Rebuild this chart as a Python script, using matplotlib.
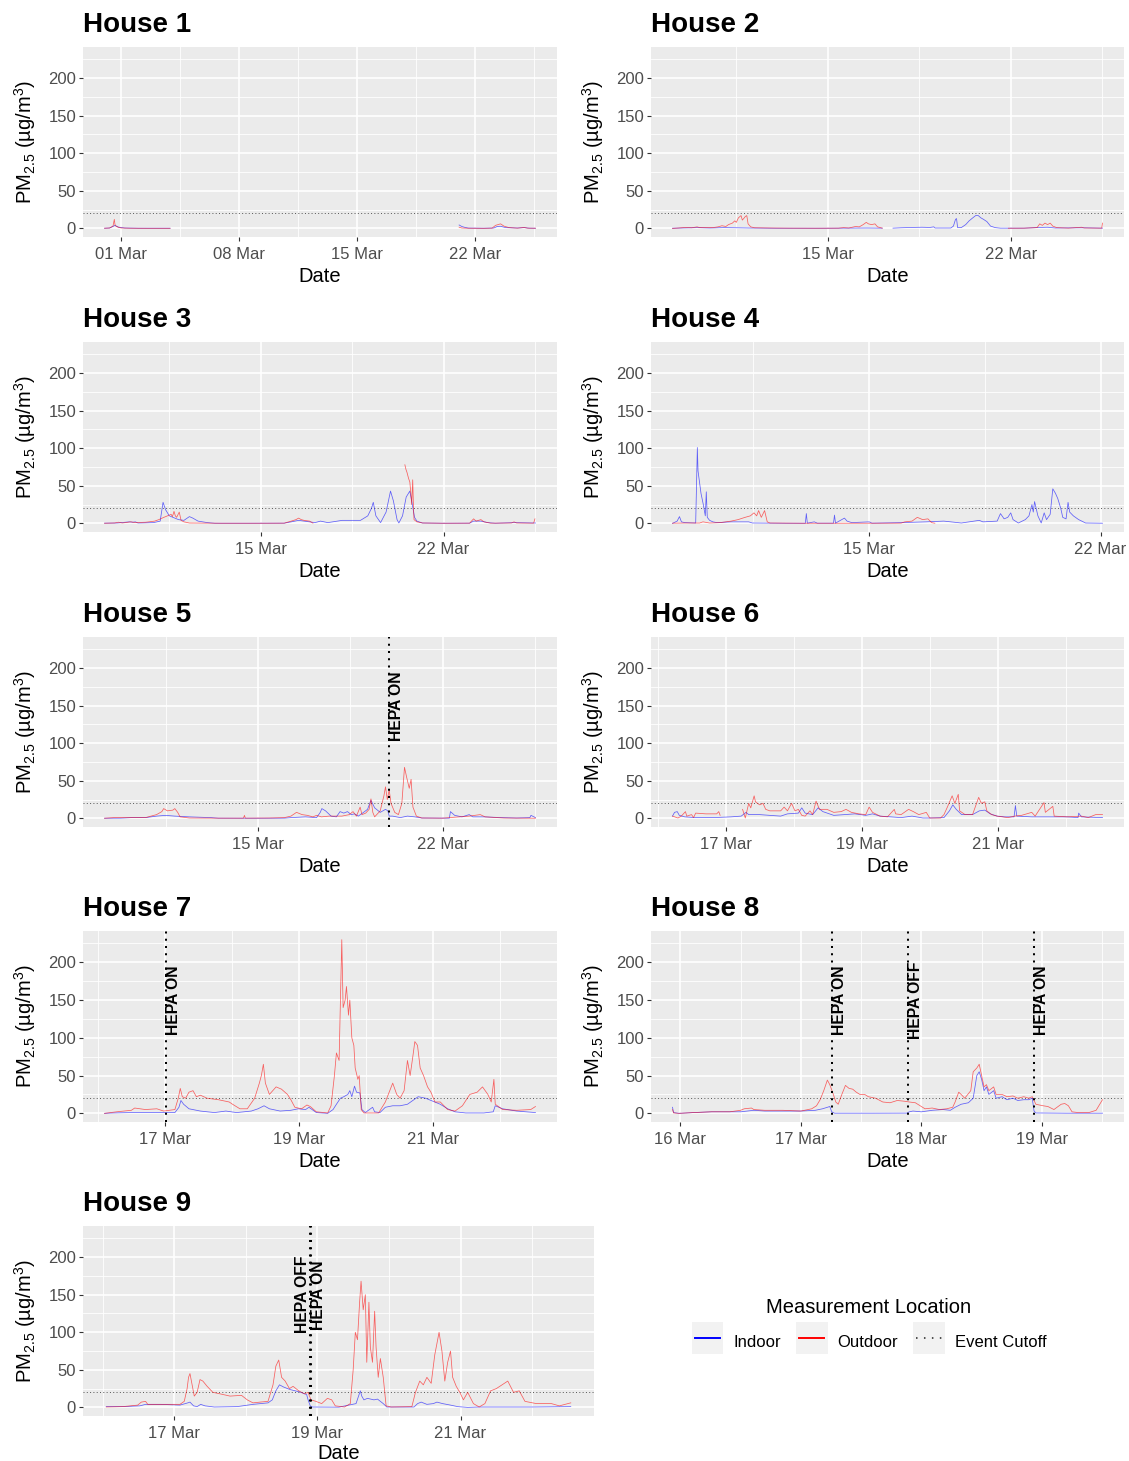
import numpy as np
import pandas as pd
import matplotlib
matplotlib.use("Agg")
import matplotlib.pyplot as plt
import matplotlib.dates as mdates
from matplotlib.lines import Line2D
from matplotlib.patches import Rectangle
from matplotlib.legend_handler import HandlerBase

nan = np.nan
plt.rcParams['font.family'] = ['Liberation Sans', 'DejaVu Sans']
plt.rcParams['mathtext.default'] = 'regular'

# time values are days counted from 28 Feb (1 = 01 Mar)
BASE = pd.Timestamp('2023-02-28')

# ---------------- House 1 ----------------
h1_in_t = [0.0, 0.3, 0.5, 0.6, 0.7, 0.85, 1.2, 2.0, 3.0, 3.89, 10.0, 21.04, 21.2, 21.4, 21.6, 22.5, 23.1, 23.3, 23.5, 23.8, 24.5, 24.9, 25.2, 25.57]
h1_in_v = [0.2, 0.5, 2.5, 4, 3, 1.5, 0.5, 0.2, 0.2, 0.2, nan, 4.5, 2.5, 1.2, 0.4, 0.2, 0.5, 2.5, 2.8, 1.0, 0.5, 1.0, 0.3, 0.2]
h1_out_t = [0.0, 0.3, 0.5, 0.58, 0.62, 0.68, 0.8, 1.0, 1.5, 2.5, 3.89, 10.0, 21.04, 21.2, 21.5, 22.5, 23.0, 23.2, 23.35, 23.5, 23.7, 24.0, 24.5, 24.9, 25.1, 25.57]
h1_out_v = [0.2, 0.5, 3, 12, 5, 3, 1.5, 0.5, 0.2, 0.1, 0.1, nan, 1.5, 0.5, 0.2, 0.1, 0.3, 4, 5, 6, 3, 1, 0.3, 1.2, 0.3, 0.2]

# ---------------- House 2 ----------------
h2_in_t = [9.06, 10.0, 10.5, 11.0, 11.5, 12.0, 13.0, 15.0, 16.5, 17.08, 17.3, 17.49, 17.8, 18.2, 18.6, 18.9, 19.05, 19.1, 19.7, 19.8, 19.88, 19.92, 19.96, 20.1, 20.27, 20.4, 20.54, 20.65, 20.75, 20.85, 20.95, 21.08, 21.22, 21.4, 21.6, 22.5, 23.1, 23.4, 23.7, 24.7, 25.5]
h2_in_v = [0.2, 1, 0.5, 1, 0.8, 0.5, 0.2, 0.2, 0.5, 0.3, nan, 0.3, 0.8, 1.2, 1.5, 1.2, 2, 0.5, 0.5, 3, 12, 13, 1, 1, 5, 10, 14, 17, 17, 14, 12, 9, 3, 1, 0.3, 0.3, 1.2, 1.5, 0.5, 0.8, 0.3]
h2_out_t = [9.06, 9.3, 9.54, 9.8, 10.0, 10.1, 10.4, 10.6, 10.8, 10.95, 11.1, 11.2, 11.35, 11.44, 11.5, 11.58, 11.68, 11.73, 11.78, 11.85, 11.9, 11.95, 12.05, 12.2, 12.8, 13.5, 14.5, 15.4, 15.6, 15.8, 16.06, 16.2, 16.35, 16.47, 16.55, 16.67, 16.8, 16.9, 17.08, 19.0, 21.9, 22.5, 23.0, 23.1, 23.2, 23.3, 23.4, 23.5, 23.6, 23.75, 24.2, 24.7, 24.8, 25.47, 25.5]
h2_out_v = [0, 0.5, 1.2, 0.8, 2, 1, 1.2, 1, 2, 3.5, 2.5, 5, 7, 10, 8, 14, 17, 11, 13, 16, 17, 6, 2, 0.8, 0.5, 0.3, 0.2, 0.3, 1, 0.5, 2.5, 2, 5, 8, 6, 5, 6, 2, 0.3, nan, 0.2, 0.3, 1, 6, 4, 7, 5, 7, 3, 1, 0.3, 1.5, 0.5, 0.3, 7]

# ---------------- House 3 ----------------
h3_in_t = [9.02, 9.5, 9.97, 10.1, 10.2, 10.3, 10.9, 11.15, 11.26, 11.36, 11.5, 11.64, 11.85, 12.06, 12.27, 12.4, 12.6, 12.96, 13.24, 14.5, 15.9, 16.17, 16.45, 16.87, 17.08, 17.29, 17.57, 18.12, 18.54, 18.82, 18.96, 19.1, 19.24, 19.31, 19.41, 19.59, 19.8, 19.97, 20.08, 20.22, 20.29, 20.43, 20.57, 20.71, 20.78, 20.89, 20.98, 21.19, 22.0, 23.0, 23.15, 23.43, 23.7, 23.98, 24.7, 25.52]
h3_in_v = [0.3, 0.5, 2, 1.5, 2, 0.5, 1, 3, 28, 18, 10, 8, 5, 4, 9, 7, 3, 1, 0.2, 0.2, 0.3, 2, 4, 2, 1, 3, 1, 4, 4, 4, 7, 10, 20, 28, 10, 1, 15, 43, 30, 5, 0.5, 10, 35, 43, 30, 8, 3, 0.5, 0.2, 0.3, 3, 3, 1, 0.2, 1, 0.5]
h3_out_t = [9.02, 9.4, 9.55, 9.7, 10.03, 10.2, 10.6, 10.94, 11.1, 11.29, 11.43, 11.57, 11.62, 11.68, 11.73, 11.78, 11.88, 11.95, 12.06, 12.27, 13.5, 15.0, 15.9, 16.17, 16.35, 16.45, 16.55, 16.66, 16.87, 17.0, 18.5, 20.52, 20.56, 20.6, 20.66, 20.71, 20.76, 20.78, 20.82, 20.85, 20.87, 20.98, 21.2, 22.0, 23.0, 23.15, 23.25, 23.43, 23.55, 23.8, 24.6, 24.7, 24.8, 25.45, 25.5]
h3_out_v = [0.2, 0.5, 1.5, 0.5, 2, 1, 1.5, 3, 5, 8, 10, 12, 9, 16, 10, 8, 15, 4, 2, 0.5, 0.2, 0.2, 0.3, 3, 5, 7, 5, 4, 3, 0.3, nan, 78, 72, 68, 60, 55, 35, 25, 58, 20, 5, 2, 0.5, 0.2, 0.3, 6, 3, 5, 2, 0.3, 0.5, 2, 0.5, 0.3, 6]

# ---------------- House 4 ----------------
h4_in_t = [9.08, 9.22, 9.29, 9.35, 9.45, 9.78, 9.83, 9.85, 9.88, 9.94, 10.01, 10.07, 10.1, 10.13, 10.2, 10.3, 10.42, 10.85, 11.38, 11.49, 12.5, 13.09, 13.12, 13.15, 13.36, 13.45, 13.94, 13.97, 14.0, 14.27, 14.35, 14.49, 15.02, 15.1, 15.98, 16.73, 17.27, 17.8, 18.34, 18.45, 18.88, 18.98, 19.09, 19.2, 19.29, 19.36, 19.52, 19.73, 19.84, 19.93, 19.97, 20.01, 20.11, 20.21, 20.3, 20.37, 20.48, 20.56, 20.64, 20.71, 20.8, 20.86, 20.96, 21.02, 21.07, 21.18, 21.34, 21.55, 22.06]
h4_in_v = [0, 3, 9, 2, 1, 0.5, 101, 70, 60, 40, 25, 10, 42, 8, 4, 2, 1, 2, 2, 0.5, 0.2, 0.2, 13, 0.3, 2, 0.3, 0.3, 11, 0.3, 7, 3, 1, 2, 0.3, 1, 2, 3, 0.5, 4, 2, 3, 13, 6, 8, 14, 5, 0.5, 5, 10, 25, 15, 29, 10, 0.5, 14, 5, 12, 46, 40, 33, 20, 8, 6, 28, 15, 10, 5, 0.5, 0.2]
h4_out_t = [9.08, 9.5, 9.9, 10.0, 10.2, 10.52, 10.85, 11.06, 11.27, 11.43, 11.54, 11.62, 11.68, 11.76, 11.86, 11.94, 12.02, 13.0, 14.0, 15.0, 15.98, 16.09, 16.31, 16.47, 16.63, 16.79, 16.9, 17.0]
h4_out_v = [0.3, 0.5, 0.5, 2, 0.5, 1, 3, 5, 8, 10, 14, 10, 17, 8, 17, 2, 0.5, 0.2, 0.2, 0.2, 0.3, 2, 3, 8, 5, 6, 1, 0.2]

# ---------------- House 5 ----------------
h5_in_t = [9.19, 9.8, 10.19, 10.74, 11.16, 11.5, 11.85, 12.4, 13.22, 13.5, 15.0, 16.0, 16.25, 16.8, 17.22, 17.36, 17.42, 17.56, 17.77, 17.97, 18.11, 18.25, 18.39, 18.53, 18.66, 18.8, 19.0, 19.15, 19.28, 19.42, 19.63, 19.83, 19.92, 19.97, 20.1, 20.39, 20.66, 20.94, 21.21, 22.25, 22.29, 22.45, 22.73, 23.0, 23.14, 23.55, 24.24, 24.79, 25.3, 25.34, 25.51]
h5_in_v = [0.2, 0.3, 1, 1, 3, 4, 3, 2, 1, 0.3, 0.2, 0.3, 1, 2, 1, 8, 13, 10, 3, 2, 9, 7, 9, 5, 6, 3, 8, 12, 24, 14, 8, 12, 10, 3, 3, 1, 3, 2, 0.5, 0.3, 9, 4, 2, 5, 2, 2, 1, 0.5, 1, 4, 1]
h5_out_t = [9.19, 9.53, 10.05, 10.74, 11.16, 11.36, 11.43, 11.57, 11.78, 11.85, 11.96, 12.05, 12.4, 13.5, 14.45, 14.49, 14.52, 15.43, 16.0, 16.25, 16.46, 16.67, 16.87, 17.08, 17.22, 17.4, 17.7, 18.18, 18.46, 18.6, 18.73, 18.87, 18.94, 19.08, 19.21, 19.28, 19.35, 19.42, 19.63, 19.77, 19.83, 19.9, 19.97, 20.04, 20.18, 20.32, 20.45, 20.55, 20.63, 20.73, 20.8, 20.87, 21.0, 21.2, 22.0, 23.0, 23.42, 23.6, 24.3, 25.51]
h5_out_v = [0.2, 1, 1, 1, 5, 9, 13, 10, 11, 13, 8, 2, 0.5, 0.3, 0.3, 4, 0.3, 0.5, 1, 3, 8, 5, 4, 2, 4, 2, 3, 3, 5, 9, 3, 15, 5, 7, 12, 26, 8, 2, 10, 30, 42, 25, 38, 20, 8, 5, 20, 68, 55, 40, 52, 15, 3, 0.5, 0.3, 3, 5, 2, 0.5, 0.2]

# ---------------- House 6 ----------------
h6_in_t = [16.22, 16.25, 16.29, 16.32, 16.4, 16.56, 16.82, 17.08, 17.23, 17.3, 17.34, 17.5, 17.65, 17.81, 17.91, 18.07, 18.12, 18.17, 18.28, 18.36, 18.43, 18.59, 18.75, 18.9, 19.06, 19.16, 19.27, 19.43, 19.58, 19.74, 19.9, 20.0, 20.21, 20.29, 20.34, 20.39, 20.47, 20.63, 20.73, 20.81, 20.89, 20.99, 21.1, 21.24, 21.26, 21.28, 21.5, 21.76, 22.02, 22.18, 22.19, 22.23, 22.54]
h6_in_v = [3, 8, 9, 4, 2, 1, 1, 2, 3, 8, 5, 5, 4, 3, 6, 7, 14, 7, 5, 14, 9, 4, 5, 6, 4, 6, 3, 2, 1, 3, 0.5, 0.5, 1, 10, 18, 12, 5, 5, 10, 11, 6, 3, 2, 2, 17, 3, 2, 2, 2, 1, 7, 2, 1]
h6_out_t = [16.22, 16.3, 16.35, 16.41, 16.43, 16.5, 16.53, 16.56, 16.71, 16.87, 16.9, 16.92, 17.1, 17.25, 17.29, 17.34, 17.37, 17.42, 17.44, 17.5, 17.55, 17.59, 17.65, 17.81, 17.86, 17.91, 17.97, 18.02, 18.07, 18.12, 18.17, 18.24, 18.28, 18.33, 18.38, 18.49, 18.59, 18.7, 18.77, 18.85, 18.96, 19.06, 19.11, 19.16, 19.27, 19.38, 19.48, 19.5, 19.58, 19.69, 19.76, 19.84, 19.95, 20.0, 20.16, 20.21, 20.26, 20.33, 20.37, 20.42, 20.44, 20.52, 20.63, 20.72, 20.76, 20.81, 20.84, 20.91, 20.99, 21.15, 21.25, 21.35, 21.5, 21.55, 21.68, 21.7, 21.81, 21.83, 22.02, 22.23, 22.33, 22.44, 22.54]
h6_out_v = [3, 0.5, 3, 9, 3, 5, 1, 7, 6, 6, 9, 4, nan, 12, 0.5, 20, 14, 30, 22, 18, 20, 12, 10, 10, 15, 10, 20, 10, 12, 4, 3, 10, 5, 23, 12, 12, 8, 9, 12, 8, 6, 5, 15, 8, 3, 2, 12, 6, 5, 12, 9, 5, 8, 0.5, 0.5, 5, 15, 30, 20, 32, 10, 5, 5, 28, 20, 22, 10, 5, 3, 1, 3, 4, 8, 3, 21, 8, 16, 3, 2, 3, 1, 5, 5]

# ---------------- House 7 ----------------
h7_in_t = [16.1, 16.22, 16.5, 16.71, 16.98, 17.15, 17.21, 17.24, 17.28, 17.36, 17.53, 17.74, 17.91, 18.07, 18.29, 18.39, 18.48, 18.56, 18.72, 18.88, 18.99, 19.1, 19.15, 19.26, 19.43, 19.51, 19.56, 19.62, 19.67, 19.73, 19.76, 19.79, 19.83, 19.86, 19.91, 19.94, 19.99, 20.1, 20.13, 20.21, 20.29, 20.4, 20.51, 20.62, 20.78, 20.89, 21.0, 21.11, 21.22, 21.33, 21.49, 21.76, 21.9, 21.93, 22.04, 22.25, 22.53]
h7_in_v = [0, 0.5, 1, 1, 1, 1, 8, 17, 12, 6, 3, 1, 3, 1, 3, 6, 10, 6, 3, 4, 6, 5, 8, 1, 0, 5, 12, 20, 22, 25, 30, 22, 36, 28, 27, 5, 1, 8, 2, 1, 8, 10, 10, 12, 22, 20, 16, 12, 6, 2, 0.5, 0.5, 2, 10, 6, 3, 1]
h7_out_t = [16.1, 16.28, 16.5, 16.55, 16.71, 16.88, 16.98, 17.15, 17.2, 17.23, 17.26, 17.31, 17.36, 17.42, 17.47, 17.53, 17.63, 17.8, 17.96, 18.01, 18.12, 18.23, 18.34, 18.41, 18.44, 18.47, 18.5, 18.56, 18.61, 18.66, 18.74, 18.83, 18.88, 18.94, 19.04, 19.12, 19.17, 19.26, 19.43, 19.48, 19.53, 19.56, 19.6, 19.62, 19.64, 19.66, 19.69, 19.71, 19.74, 19.76, 19.79, 19.82, 19.84, 19.88, 19.9, 19.93, 19.97, 20.19, 20.29, 20.4, 20.46, 20.51, 20.57, 20.62, 20.66, 20.7, 20.73, 20.77, 20.81, 20.86, 20.92, 20.97, 21.03, 21.11, 21.22, 21.33, 21.44, 21.55, 21.66, 21.74, 21.82, 21.87, 21.91, 21.93, 22.04, 22.25, 22.46, 22.53]
h7_out_v = [0, 2, 4, 7, 5, 6, 3, 5, 20, 33, 22, 20, 28, 30, 22, 24, 20, 18, 15, 12, 6, 6, 20, 40, 50, 65, 40, 25, 30, 35, 32, 25, 18, 8, 6, 11, 9, 2, 0.5, 10, 50, 80, 70, 150, 230, 140, 150, 168, 130, 150, 100, 90, 60, 45, 50, 5, 0.5, 0.5, 15, 40, 25, 20, 30, 70, 50, 75, 95, 90, 60, 50, 35, 28, 15, 15, 5, 3, 10, 25, 28, 35, 25, 15, 45, 12, 5, 4, 5, 9]

# ---------------- House 8 ----------------
h8_in_t = [15.935, 15.944, 15.99, 16.11, 16.26, 16.41, 16.5, 16.61, 16.7, 16.85, 17.0, 17.12, 17.18, 17.22, 17.24, 17.256, 17.28, 17.6, 17.88, 17.9, 17.93, 18.0, 18.09, 18.18, 18.24, 18.28, 18.33, 18.39, 18.43, 18.46, 18.48, 18.5, 18.52, 18.54, 18.56, 18.6, 18.62, 18.67, 18.71, 18.76, 18.8, 18.85, 18.89, 18.92, 18.935, 18.95, 19.2, 19.503]
h8_in_v = [8, 1, 0, 1, 2, 2, 2, 4, 3, 3, 3, 4, 6, 8, 9, 2, 0.2, 0.2, 0.3, 2, 3, 2, 4, 5, 4, 8, 12, 14, 20, 50, 55, 45, 30, 35, 25, 30, 20, 22, 18, 20, 17, 18, 18, 20, 3, 0.5, 0.2, 0.2]
h8_out_t = [15.935, 15.944, 15.99, 16.11, 16.26, 16.41, 16.5, 16.53, 16.59, 16.61, 16.7, 16.85, 17.0, 17.09, 17.13, 17.16, 17.19, 17.22, 17.24, 17.27, 17.29, 17.31, 17.34, 17.37, 17.4, 17.43, 17.46, 17.49, 17.53, 17.56, 17.62, 17.68, 17.74, 17.8, 17.86, 17.9, 17.95, 17.99, 18.03, 18.09, 18.15, 18.21, 18.26, 18.28, 18.31, 18.33, 18.36, 18.41, 18.43, 18.46, 18.48, 18.5, 18.52, 18.54, 18.56, 18.6, 18.62, 18.67, 18.71, 18.76, 18.8, 18.85, 18.89, 18.92, 18.95, 19.01, 19.05, 19.1, 19.16, 19.19, 19.22, 19.25, 19.3, 19.39, 19.45, 19.48, 19.503]
h8_out_v = [5, 0.5, 0, 1, 2, 2, 4, 6, 7, 5, 4, 4, 3, 6, 10, 18, 30, 44, 38, 25, 15, 12, 25, 37, 33, 32, 28, 25, 25, 22, 20, 15, 14, 17, 16, 15, 14, 10, 6, 7, 5, 6, 8, 15, 28, 25, 20, 30, 55, 60, 65, 50, 35, 38, 30, 35, 25, 25, 22, 23, 20, 22, 20, 22, 12, 10, 9, 5, 12, 13, 10, 2, 1, 1, 4, 12, 18]

# ---------------- House 9 ----------------
h9_in_t = [16.05, 16.28, 16.52, 16.6, 16.81, 17.08, 17.19, 17.22, 17.27, 17.32, 17.37, 17.43, 17.56, 17.88, 18.1, 18.31, 18.37, 18.42, 18.47, 18.53, 18.61, 18.69, 18.77, 18.85, 18.87, 18.9, 18.93, 19.3, 19.54, 19.6, 19.62, 19.65, 19.7, 19.79, 19.84, 19.92, 19.97, 20.35, 20.4, 20.45, 20.53, 20.62, 20.67, 20.75, 20.86, 20.96, 21.1, 21.26, 22.0, 22.54]
h9_in_v = [1, 1, 2, 4, 4, 3, 6, 7, 2, 1, 4, 2, 0.5, 1, 4, 6, 10, 22, 30, 27, 24, 22, 20, 17, 10, 2, 0.5, 0.3, 5, 22, 15, 10, 12, 10, 11, 5, 0.5, 0.5, 5, 7, 4, 5, 7, 5, 3, 1, 0, 0.5, 0.5, 1]
h9_out_t = [16.05, 16.28, 16.49, 16.54, 16.6, 16.63, 16.81, 17.08, 17.14, 17.18, 17.2, 17.22, 17.25, 17.28, 17.32, 17.36, 17.4, 17.46, 17.54, 17.64, 17.78, 17.94, 18.02, 18.1, 18.2, 18.31, 18.38, 18.42, 18.46, 18.5, 18.55, 18.61, 18.66, 18.74, 18.82, 18.87, 18.91, 18.98, 19.06, 19.14, 19.2, 19.25, 19.38, 19.46, 19.5, 19.53, 19.56, 19.59, 19.61, 19.64, 19.67, 19.69, 19.72, 19.74, 19.77, 19.8, 19.82, 19.85, 19.88, 19.92, 19.96, 20.03, 20.32, 20.37, 20.43, 20.48, 20.53, 20.59, 20.64, 20.7, 20.74, 20.78, 20.82, 20.86, 20.89, 20.94, 20.99, 21.04, 21.1, 21.18, 21.26, 21.34, 21.42, 21.5, 21.58, 21.66, 21.74, 21.82, 21.9, 22.06, 22.27, 22.38, 22.54]
h9_out_v = [0.5, 1, 3, 7, 8, 4, 4, 4, 8, 25, 40, 45, 30, 15, 20, 37, 35, 28, 20, 18, 15, 16, 10, 6, 7, 8, 30, 55, 63, 40, 35, 25, 28, 22, 18, 20, 10, 8, 5, 12, 10, 2, 0.5, 5, 50, 100, 90, 140, 168, 130, 150, 60, 140, 80, 60, 128, 80, 40, 65, 40, 2, 0.5, 1, 20, 35, 30, 40, 32, 70, 100, 75, 35, 60, 75, 40, 28, 20, 10, 20, 5, 0.5, 5, 22, 25, 30, 35, 20, 22, 8, 5, 5, 2, 6]

houses = [1, 2, 3, 4, 5, 6, 7, 8, 9]
indoor_t = [h1_in_t, h2_in_t, h3_in_t, h4_in_t, h5_in_t, h6_in_t, h7_in_t, h8_in_t, h9_in_t]
indoor_v = [h1_in_v, h2_in_v, h3_in_v, h4_in_v, h5_in_v, h6_in_v, h7_in_v, h8_in_v, h9_in_v]
outdoor_t = [h1_out_t, h2_out_t, h3_out_t, h4_out_t, h5_out_t, h6_out_t, h7_out_t, h8_out_t, h9_out_t]
outdoor_v = [h1_out_v, h2_out_v, h3_out_v, h4_out_v, h5_out_v, h6_out_v, h7_out_v, h8_out_v, h9_out_v]

# events: house -> list of (time, label, side)
events = {
    5: [(19.95, 'HEPA ON', 'right')],
    7: [(17.01, 'HEPA ON', 'right')],
    8: [(17.256, 'HEPA ON', 'right'), (17.892, 'HEPA OFF', 'right'), (18.938, 'HEPA ON', 'right')],
    9: [(18.90, 'HEPA OFF', 'left'), (18.91, 'HEPA ON', 'right')],
}
threshold = 20

major_days = {1: [1, 8, 15, 22], 2: [15, 22], 3: [15, 22], 4: [15, 22], 5: [15, 22],
              6: [17, 19, 21], 7: [17, 19, 21], 8: [16, 17, 18, 19], 9: [17, 19, 21]}
minor_days = {1: [4.5, 11.5, 18.5, 25.5], 2: [11.5, 18.5, 25.5], 3: [11.5, 18.5, 25.5],
              4: [11.5, 18.5], 5: [11.5, 18.5, 25.5], 6: [16, 18, 20, 22], 7: [16, 18, 20, 22],
              8: [16.5, 17.5, 18.5, 19.5], 9: [16, 18, 20, 22]}
y_major = [0, 50, 100, 150, 200]
y_minor = [25, 75, 125, 175, 225]


def to_dt(t):
    return BASE + pd.to_timedelta(np.asarray(t, dtype=float), unit='D')


W, H = 1129, 1461
fig = plt.figure(figsize=(W / 100, H / 100), dpi=100)

boxes = {1: (83, 47, 557, 237), 2: (651, 47, 1124, 237),
         3: (83, 342, 557, 532), 4: (651, 342, 1124, 532),
         5: (83, 637, 557, 827), 6: (651, 637, 1124, 827),
         7: (83, 931, 557, 1122), 8: (651, 931, 1124, 1122),
         9: (83, 1226, 594, 1416)}

allv = np.concatenate([np.asarray(v, float) for v in indoor_v + outdoor_v])
ymax = np.nanmax(allv)
ymin = 0.0
yr = ymax - ymin
ylim = (ymin - 0.05 * yr, ymax + 0.05 * yr)

IN_C, OUT_C = '#0000FF', '#FF0000'
ylabel = 'PM$_{2.5}$ (µg/m$^{3}$)'

for i, h in enumerate(houses):
    x0, y0, x1, y1 = boxes[h]
    ax = fig.add_axes([x0 / W, 1 - y1 / H, (x1 - x0) / W, (y1 - y0) / H])
    ax.set_facecolor('#EBEBEB')
    for s in ax.spines.values():
        s.set_visible(False)
    ax.plot(to_dt(indoor_t[i]), indoor_v[i], color=IN_C, lw=0.55, alpha=0.6, zorder=3)
    ax.plot(to_dt(outdoor_t[i]), outdoor_v[i], color=OUT_C, lw=0.55, alpha=0.6, zorder=4)
    ax.axhline(threshold, color='#555555', lw=0.7, ls=(0, (1, 2.4)), zorder=2)
    for (te, lab, side) in events.get(h, []):
        xe = to_dt([te])[0]
        ax.axvline(xe, color='black', lw=1.45, ls=(0, (1, 2.6)), zorder=5)
        ax.text(xe, 150, lab, rotation=90, rotation_mode='anchor', ha='center',
                va='top' if side == 'right' else 'bottom', fontsize=11.3,
                fontweight='bold', color='black', zorder=6)
    tmin = min(np.min(indoor_t[i]), np.min(outdoor_t[i]))
    tmax = max(np.max(indoor_t[i]), np.max(outdoor_t[i]))
    tr = tmax - tmin
    ax.set_xlim(to_dt([tmin - 0.05 * tr])[0], to_dt([tmax + 0.05 * tr])[0])
    ax.set_ylim(ylim)
    ax.set_yticks(y_major)
    ax.set_yticks(y_minor, minor=True)
    ax.set_xticks(to_dt(major_days[h]))
    ax.set_xticks(to_dt(minor_days[h]), minor=True)
    ax.xaxis.set_major_formatter(mdates.DateFormatter('%d %b'))
    ax.xaxis.set_minor_formatter(matplotlib.ticker.NullFormatter())
    ax.set_axisbelow(True)
    ax.grid(which='major', color='white', lw=1.2)
    ax.grid(which='minor', color='white', lw=0.6)
    ax.tick_params(which='minor', length=0)
    ax.tick_params(which='major', length=3, width=0.8, color='#333333', labelsize=12,
                   labelcolor='#4D4D4D')
    ax.tick_params(axis='x', which='major', pad=4)
    ax.tick_params(axis='y', which='major', pad=2)
    ax.set_xlabel('Date', fontsize=14.5, labelpad=2.5 if h == 9 else 3.5)
    ax.set_ylabel(ylabel, fontsize=14.5, labelpad=7)
    ax.set_title(f'House {h}', loc='left', fontsize=20, fontweight='bold', pad=11)


class KeyBox(HandlerBase):
    def create_artists(self, legend, orig_handle, xdescent, ydescent, width, height, fontsize, trans):
        x0, y0 = -xdescent, -ydescent
        rect = Rectangle((x0, y0), width, height + ydescent, facecolor='#F2F2F2',
                         edgecolor='none', transform=trans)
        pad = 0.1 * width
        yc = (height - ydescent) / 2
        line = Line2D([x0 + pad, x0 + width - pad], [yc, yc])
        line.update_from(orig_handle)
        line.set_transform(trans)
        return [rect, line]


handles = [Line2D([], [], color=IN_C, lw=1.4),
           Line2D([], [], color=OUT_C, lw=1.4),
           Line2D([], [], color='#222222', lw=1.1, ls=(0, (1, 4.2)))]
fig.legend(handles, ['Indoor', 'Outdoor', 'Event Cutoff'], title='Measurement Location',
           loc='center', bbox_to_anchor=(869 / W, 1 - 1326 / H), ncol=3, frameon=False,
           fontsize=12, title_fontsize=14.5, handler_map={Line2D: KeyBox()},
           handlelength=1.9, handleheight=1.9, handletextpad=0.6, columnspacing=0.9,
           borderpad=0, labelspacing=0.75)

fig.savefig('out.png', dpi=100)
